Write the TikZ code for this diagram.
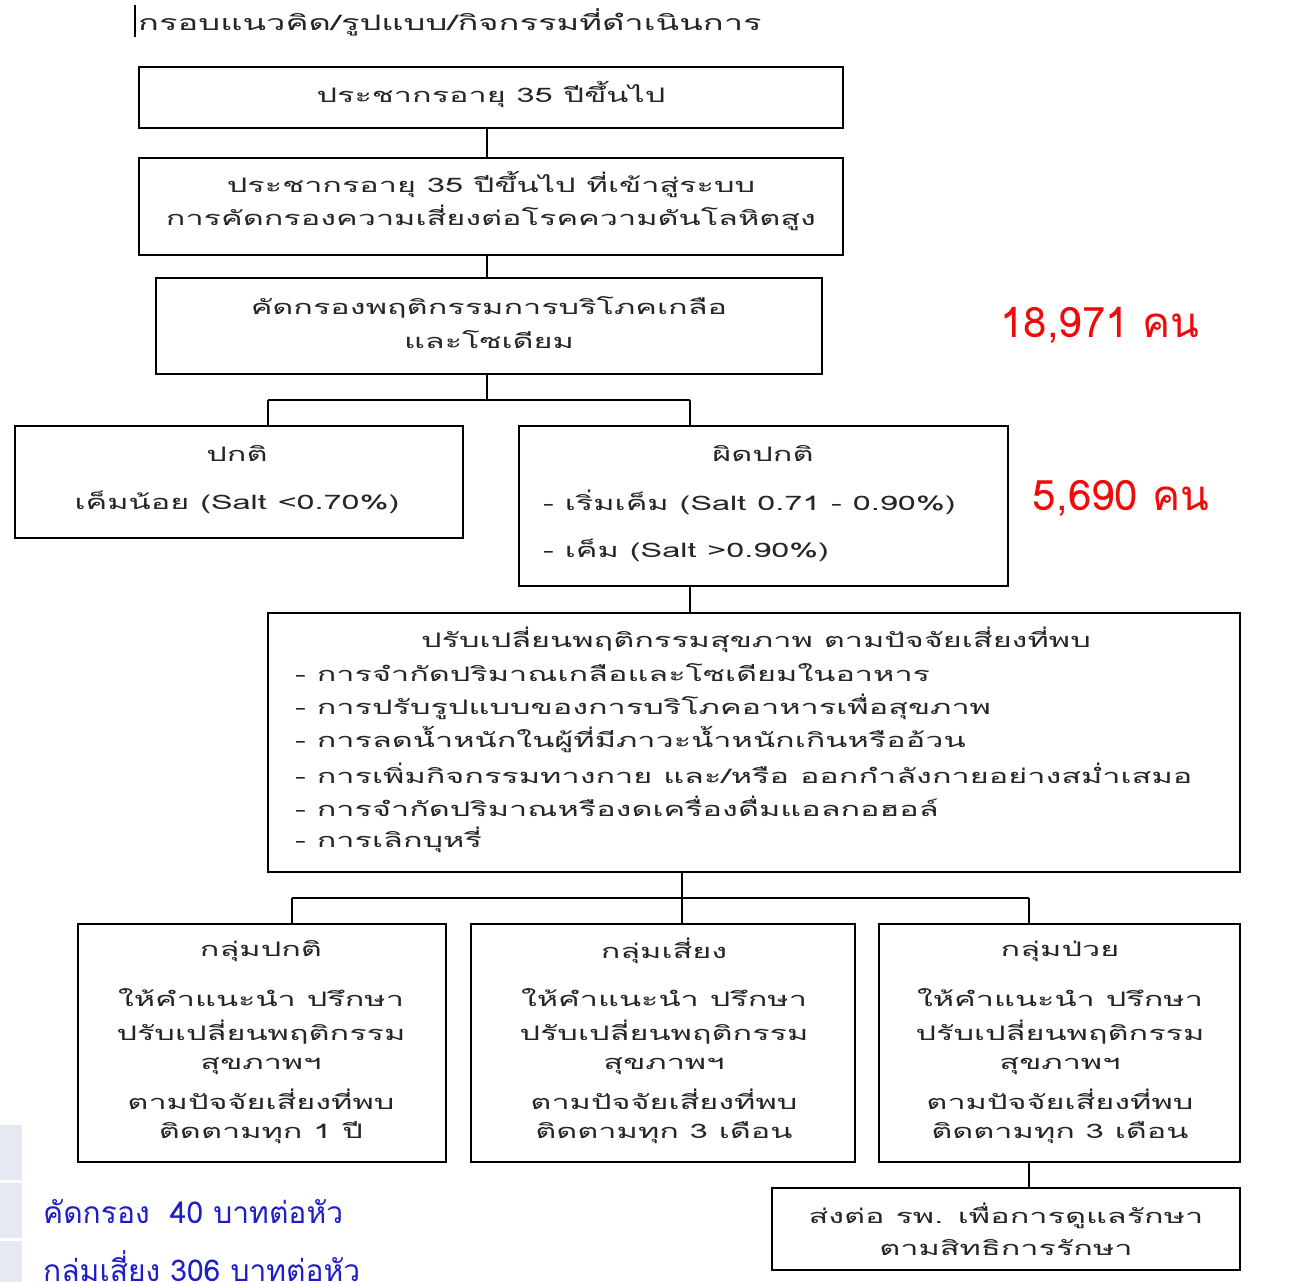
\documentclass[tikz,border=0pt]{standalone}
\usepackage{fontspec}
\newfontfamily\thai[Script=Thai,FakeStretch=1.62]{Loma}
\newfontfamily\thaibig[Script=Thai]{Loma}
\definecolor{redtxt}{RGB}{240,10,10}
\definecolor{bluetxt}{RGB}{30,30,200}
\definecolor{sidegray}{RGB}{230,233,242}
\begin{document}
\begin{tikzpicture}[x=1pt,y=-1pt,
  box/.style={draw, line width=2.6pt, inner sep=0pt},
  ln/.style={line width=2.6pt},
  txt/.style={font=\thai\fontsize{20}{24}\selectfont, inner sep=0pt, text=black!85},
  ttl/.style={font=\thai\fontsize{21.3}{25}\selectfont, inner sep=0pt, text=black!85},
  redlbl/.style={font=\thaibig\fontsize{42}{48}\selectfont, text=redtxt, inner sep=0pt},
  bluelbl/.style={font=\thaibig\fontsize{30}{36}\selectfont, text=bluetxt, inner sep=0pt, anchor=west}]
\useasboundingbox (0,0) rectangle (1307,1282);
\fill[white] (0,0) rectangle (1307,1282);
% side strips
\fill[sidegray] (0,1125) rectangle (22,1180);
\fill[sidegray] (0,1183) rectangle (22,1238);
\fill[sidegray] (0,1241) rectangle (22,1282);
% title
\draw[line width=2pt] (135,5) -- (135,37);
\node[ttl, anchor=west] (title) at (138,22) {กรอบแนวคิด/รูปแบบ/กิจกรรมที่ดำเนินการ};
% boxes
\node[box, minimum width=704, minimum height=61] (b1) at (491,97.5) {};
\node[txt] (t1) at (491,95) {ประชากรอายุ 35 ปีขึ้นไป};
\node[box, minimum width=704, minimum height=97] (b2) at (491,206.5) {};
\node[txt] (t2a) at (491,185) {ประชากรอายุ 35 ปีขึ้นไป ที่เข้าสู่ระบบ};
\node[txt] (t2b) at (491,218) {การคัดกรองความเสี่ยงต่อโรคความดันโลหิตสูง};
\node[box, minimum width=666, minimum height=96] (b3) at (489,326) {};
\node[txt] (t3a) at (489,307) {คัดกรองพฤติกรรมการบริโภคเกลือ};
\node[txt] (t3b) at (489,340) {และโซเดียม};
\node[box, minimum width=448, minimum height=112] (b4) at (239,482) {};
\node[txt] (t4a) at (237,453) {ปกติ};
\node[txt] (t4b) at (237,502) {เค็มน้อย (Salt <0.70\%)};
\node[box, minimum width=489, minimum height=160] (b5) at (763.5,506) {};
\node[txt] (t5a) at (763,453) {ผิดปกติ};
\node[txt, anchor=west] (t5b) at (543,502) {- เริ่มเค็ม (Salt 0.71 - 0.90\%)};
\node[txt, anchor=west] (t5c) at (543,550) {- เค็ม (Salt >0.90\%)};
\node[box, minimum width=972, minimum height=259] (b6) at (754,742.5) {};
\node[txt] (t6) at (756,640) {ปรับเปลี่ยนพฤติกรรมสุขภาพ ตามปัจจัยเสี่ยงที่พบ};
\node[txt, anchor=west] (t6a) at (295,673) {- การจำกัดปริมาณเกลือและโซเดียมในอาหาร};
\node[txt, anchor=west] (t6b) at (295,707) {- การปรับรูปแบบของการบริโภคอาหารเพื่อสุขภาพ};
\node[txt, anchor=west] (t6c) at (295,740) {- การลดน้ำหนักในผู้ที่มีภาวะน้ำหนักเกินหรืออ้วน};
\node[txt, anchor=west] (t6d) at (295,773) {- การเพิ่มกิจกรรมทางกาย และ/หรือ ออกกำลังกายอย่างสม่ำเสมอ};
\node[txt, anchor=west] (t6e) at (295,806) {- การจำกัดปริมาณหรืองดเครื่องดื่มแอลกอฮอล์};
\node[txt, anchor=west] (t6f) at (295,840) {- การเลิกบุหรี่};
% bottom row
\node[box, minimum width=368, minimum height=238] (b7) at (262,1043) {};
\node[box, minimum width=384, minimum height=238] (b8) at (663,1043) {};
\node[box, minimum width=361, minimum height=238] (b9) at (1059.5,1043) {};
\foreach \nm/\cx/\last in {b7/261/{ติดตามทุก 1 ปี}, b8/664/{ติดตามทุก 3 เดือน}, b9/1060/{ติดตามทุก 3 เดือน}}{
  \node[txt] (\nm-2) at (\cx,998) {ให้คำแนะนำ ปรึกษา};
  \node[txt] (\nm-3) at (\cx,1032) {ปรับเปลี่ยนพฤติกรรม};
  \node[txt] (\nm-4) at (\cx,1066) {สุขภาพฯ};
  \node[txt] (\nm-5) at (\cx,1099) {ตามปัจจัยเสี่ยงที่พบ};
  \node[txt] (\nm-6) at (\cx,1133) {\last};
}
\node[txt] (b7-1) at (261,951) {กลุ่มปกติ};
\node[txt] (b8-1) at (664,951) {กลุ่มเสี่ยง};
\node[txt] (b9-1) at (1060,951) {กลุ่มป่วย};
\node[box, minimum width=468, minimum height=82] (b10) at (1006,1229) {};
\node[txt] (t10a) at (1006,1216) {ส่งต่อ รพ. เพื่อการดูแลรักษา};
\node[txt] (t10b) at (1006,1248) {ตามสิทธิการรักษา};
% labels
\node[redlbl] (r1) at (1100,325) {18,971 คน};
\node[redlbl] (r2) at (1121,498) {5,690 คน};
\node[bluelbl] (bl1) at (43,1212) {คัดกรอง\ \ 40 บาทต่อหัว};
\node[bluelbl] (bl2) at (43,1270) {กลุ่มเสี่ยง 306 บาทต่อหัว};
% connectors
\coordinate (j0) at (487,0);
\draw[ln] (b1.south -| j0) -- (b2.north -| j0);
\draw[ln] (b2.south -| j0) -- (b3.north -| j0);
\coordinate (j1) at (487,400);
\coordinate (j1l) at (268,400);
\coordinate (j1r) at (690,400);
\draw[ln] (b3.south -| j1) -- (j1);
\draw[ln] (j1l) -- (j1r);
\draw[ln] (j1l) -- (j1l |- b4.north);
\draw[ln] (j1r) -- (j1r |- b5.north);
\draw[ln] (j1r |- b5.south) -- (j1r |- b6.north);
\coordinate (j2) at (682,898);
\coordinate (j2l) at (292,898);
\coordinate (j2r) at (1029,898);
\draw[ln] (j2 |- b6.south) -- (j2);
\draw[ln] (j2l) -- (j2r);
\draw[ln] (j2l) -- (j2l |- b7.north);
\draw[ln] (j2) -- (j2 |- b8.north);
\draw[ln] (j2r) -- (j2r |- b9.north);
\draw[ln] (j2r |- b9.south) -- (j2r |- b10.north);
\end{tikzpicture}
\end{document}
